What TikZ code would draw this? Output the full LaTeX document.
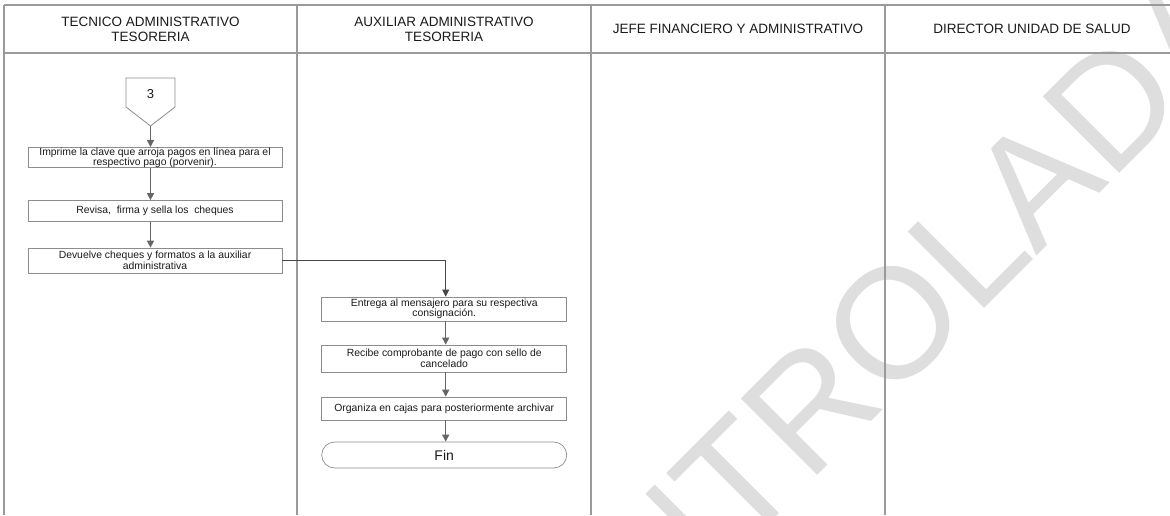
\documentclass[tikz,border=0pt]{standalone}
\usepackage{fontspec}
\setmainfont{Liberation Sans}
\usetikzlibrary{arrows.meta}
\definecolor{frame}{HTML}{9A9A9A}
\definecolor{boxline}{HTML}{8C8C8C}
\definecolor{flow}{HTML}{666666}
\definecolor{wmark}{HTML}{DEDEDE}
\definecolor{ink}{HTML}{1A1A1A}
\begin{document}
\begin{tikzpicture}[x=1pt,y=-1pt,
  lane/.style={draw=frame,line width=1.1pt},
  head/.style={font=\fontsize{13.5}{15}\selectfont,text=ink,align=center,inner sep=0pt},
  task/.style={draw=boxline,line width=0.7pt,fill=white,inner sep=0pt,align=center,
    text=ink,font=\fontsize{10.4}{10.5}\selectfont},
  arr/.style={draw=flow,line width=1.4pt,-{Triangle[length=7pt,width=7pt]}},
  link/.style={draw=flow!70!black,line width=0.8pt,-{Triangle[length=7pt,width=7pt]}},
]
\useasboundingbox (0,0) rectangle (1170,515);
\fill[white] (0,0) rectangle (1170,515);

% watermark behind everything
\begin{scope}
  \clip (0,0) rectangle (1170,515);
  \node[anchor=base west,rotate=45,inner sep=0pt,text=wmark,
        font=\fontsize{157}{157}\selectfont] (wm) at (494,799) {CONTROLADA};
\end{scope}

% swimlane frame
\draw[lane] (4,5) -- (1170,5);
\draw[lane] (4,53) -- (1170,53);
\draw[lane] (4,5) -- (4,515);
\draw[lane] (297,5) -- (297,515);
\draw[lane] (591,5) -- (591,515);
\draw[lane] (885,5) -- (885,515);

% lane headers
\node[head] (h1) at (150.5,29) {TECNICO ADMINISTRATIVO\\TESORERIA};
\node[head] (h2) at (444,29) {AUXILIAR ADMINISTRATIVO\\TESORERIA};
\node[head] (h3) at (738,29) {JEFE FINANCIERO Y ADMINISTRATIVO};
\node[head] (h4) at (1032,29) {DIRECTOR UNIDAD DE SALUD};

% off-page connector 3
\coordinate (p1) at (126,78);
\coordinate (p2) at (175,78);
\coordinate (p3) at (175,107);
\coordinate (c3tip) at (150.5,126);
\coordinate (p5) at (126,107);
\draw[draw=boxline,line width=0.8pt,fill=white] (p1) -- (p2) -- (p3) -- (c3tip) -- (p5) -- cycle;
\node[font=\fontsize{13}{13}\selectfont,text=ink] (c3) at (150.5,94) {3};

% first lane activities
\node[task,minimum width=254pt,minimum height=19pt] (b1) at (155,157.5)
  {Imprime la clave que arroja pagos en línea para el\\respectivo pago (porvenir).};
\node[task,minimum width=254pt,minimum height=21pt] (b2) at (155,211)
  {Revisa,\ \ firma y sella los\ \ cheques};
\node[task,minimum width=254pt,minimum height=25pt] (b3) at (155,260.5)
  {Devuelve cheques y formatos a la auxiliar\\administrativa};

% second lane activities
\coordinate (col2) at (445.7,0);
\node[task,minimum width=245pt,minimum height=24pt] (b4) at (444.2,309)
  {Entrega al mensajero para su respectiva\\consignación.};
\node[task,minimum width=245pt,minimum height=27pt] (b5) at (444.2,358.5)
  {Recibe comprobante de pago con sello de\\cancelado};
\node[task,minimum width=245pt,minimum height=23pt] (b6) at (444.2,408.5)
  {Organiza en cajas para posteriormente archivar};
\node[task,rounded corners=13pt,minimum width=245pt,minimum height=26pt,
      font=\fontsize{14}{14}\selectfont] (fin) at (444.2,455) {Fin};

% flow
\draw[arr] (c3tip) -- (c3tip |- b1.north);
\draw[arr] (c3tip |- b1.south) -- (c3tip |- b2.north);
\draw[arr] (c3tip |- b2.south) -- (c3tip |- b3.north);
\draw[link] (b3.east) -| (col2 |- b4.north);
\draw[arr] (col2 |- b4.south) -- (col2 |- b5.north);
\draw[arr] (col2 |- b5.south) -- (col2 |- b6.north);
\draw[arr] (col2 |- b6.south) -- (col2 |- fin.north);
\end{tikzpicture}
\end{document}
